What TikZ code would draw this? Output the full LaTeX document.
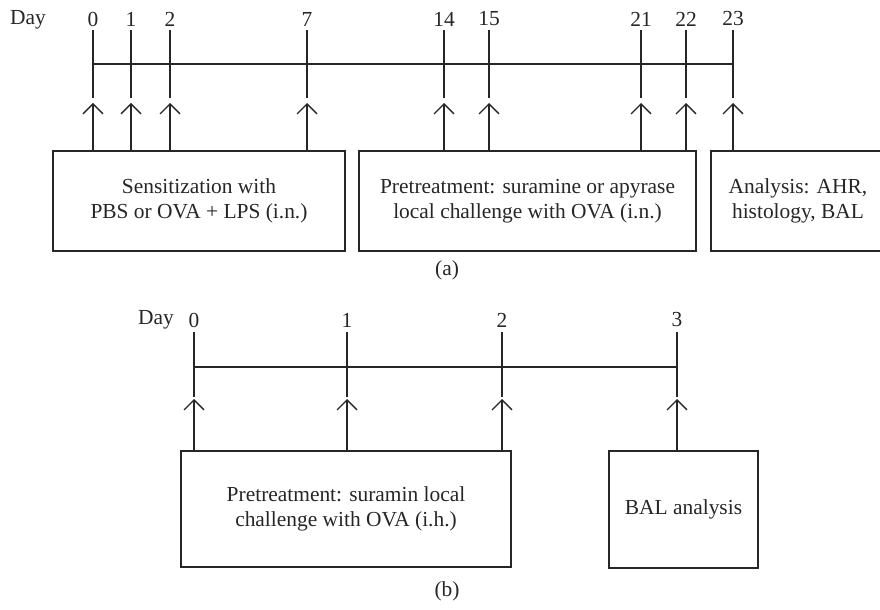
\documentclass[tikz,border=0pt]{standalone}
\usepackage{fontspec}
\setmainfont{Liberation Serif}
\usetikzlibrary{arrows.meta}

\begin{document}
\begin{tikzpicture}[x=1bp,y=-1bp,
      every node/.style={font=\fontsize{21.5}{25}\selectfont,text=black!85},
      box/.style={draw=black!85,line width=1.6bp,align=center,inner sep=0pt},
      tick/.style={draw=black!85,line width=2bp},
      arr/.style={draw=black!85,line width=1.2bp,
        -{Straight Barb[length=10bp,width=20bp,line width=1.3bp]}}]

    \useasboundingbox (0,0) rectangle (880,610);

    % (a)
    \node (daya) at (28,20) {Day};
    \foreach \d/\x in {0/93,1/131,2/170,7/307,14/444,15/489,21/641,22/686,23/733} {
      \node (na\d) at (\x,19) {\d};
      \coordinate (ta\d) at (\x,103);
      \draw[tick] (\x,30) -- (\x,98);
    }
    \draw[tick] (93,64) -- (733,64);

    \node[box,minimum width=292bp,minimum height=100bp] (sens) at (199,201)
      {Sensitization with\\PBS or OVA + LPS (i.n.)};
    \node[box,minimum width=337bp,minimum height=100bp] (pre) at (527.5,201)
      {Pretreatment: suramine or apyrase\\local challenge with OVA (i.n.)};
    \node[box,minimum width=174bp,minimum height=100bp] (ana) at (798,201)
      {Analysis: AHR,\\histology, BAL};

    \foreach \d in {0,1,2,7}
      \draw[arr] (ta\d |- sens.north) -- (ta\d);
    \foreach \d in {14,15,21,22}
      \draw[arr] (ta\d |- pre.north) -- (ta\d);
    \draw[arr] (ta23 |- ana.north) -- (ta23);

    \node (capa) at (447,270) {(a)};

    % (b)
    \node (dayb) at (156,320) {Day};
    \foreach \d/\x in {0/194,1/347,2/502,3/677} {
      \node (nb\d) at (\x,320) {\d};
      \coordinate (tb\d) at (\x,399);
      \draw[tick] (\x,332) -- (\x,397);
    }
    \draw[tick] (194,367) -- (677,367);

    \node[box,minimum width=330bp,minimum height=116bp] (preb) at (346,509)
      {Pretreatment: suramin local\\challenge with OVA (i.h.)};
    \node[box,minimum width=149bp,minimum height=117bp] (bal) at (683.5,509.5)
      {BAL analysis};

    \foreach \d in {0,1,2}
      \draw[arr] (tb\d |- preb.north) -- (tb\d);
    \draw[arr] (tb3 |- bal.north) -- (tb3);

    \node (capb) at (447,591) {(b)};

\end{tikzpicture}
\end{document}
